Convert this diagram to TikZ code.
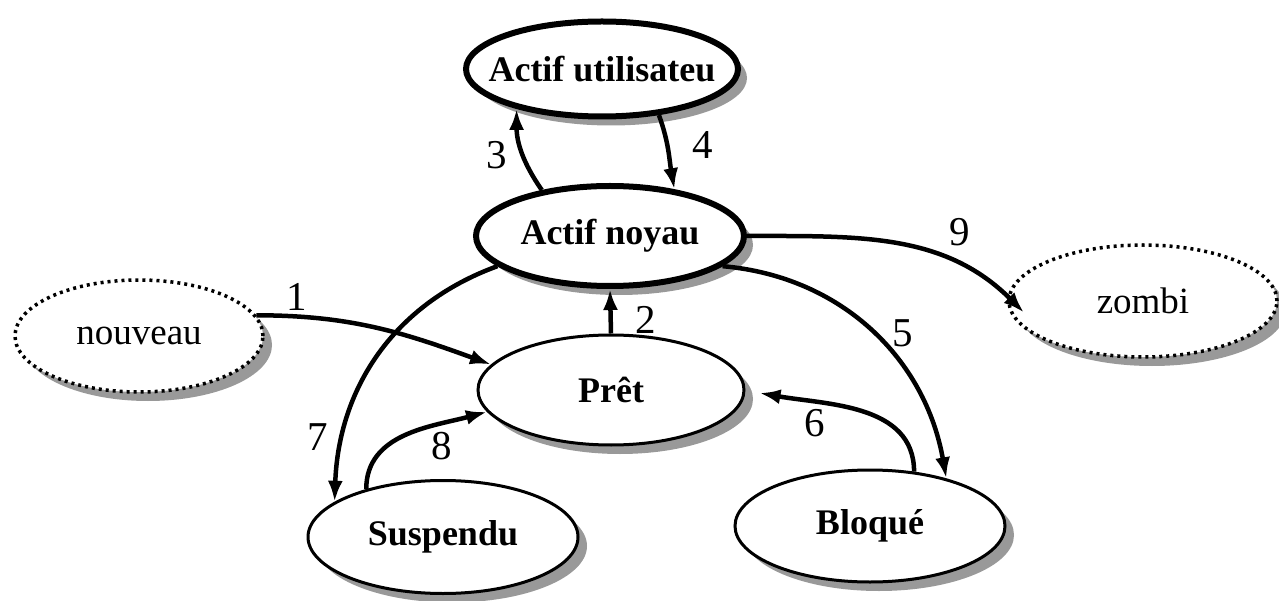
\documentclass[tikz,border=0pt]{standalone}
\usepackage{fontspec}
\setmainfont{Liberation Serif}
\usetikzlibrary{shapes.geometric,shadows,arrows.meta}
\newcommand\mkzw[1]{\makebox[0pt]{#1}}
\begin{document}
\begin{tikzpicture}[x=1pt,y=-1pt,
 st/.style={ellipse,draw,fill=white,line width=3pt,inner sep=0pt,
   font=\fontsize{36}{40}\selectfont\bfseries,
   drop shadow={shadow xshift=9pt,shadow yshift=-9pt,fill=black!40,opacity=1}},
 thickst/.style={st,line width=6pt},
 dotst/.style={st,line width=3.5pt,dash pattern=on 3pt off 4pt,font=\fontsize{37}{40}\selectfont},
 tr/.style={line width=4.5pt,-{Latex[length=21pt,width=15pt]}},
 lab/.style={font=\fontsize{41}{44}\selectfont,inner sep=0pt}]
\useasboundingbox (0,0) rectangle (1279,601);

\node[thickst,minimum width=272,minimum height=95] (util) at (602,69) {\mkzw{Actif utilisateu}};
\node[thickst,minimum width=268,minimum height=100] (noyau) at (610,236) {\mkzw{Actif noyau}};
\node[dotst,minimum width=248,minimum height=112] (nouveau) at (139,336) {\mkzw{nouveau}};
\node[dotst,minimum width=268,minimum height=112] (zombi) at (1143,301) {\mkzw{zombi}};
\node[st,minimum width=266,minimum height=110] (pret) at (611,390) {\mkzw{Prêt}};
\node[st,minimum width=270,minimum height=113] (susp) at (443,537) {\mkzw{Suspendu}};
\node[st,minimum width=270,minimum height=112] (bloq) at (870,526) {\mkzw{Bloqué}};

\draw[tr] (nouveau.10) to[out=0,in=160] (pret.168);
\draw[tr] (pret.north) -- (noyau.south);
\draw[tr] (noyau.146) to[out=125,in=270] (util.205);
\draw[tr] (util.-39) to[out=-70,in=100] (noyau.36);
\draw[tr] (noyau.0) to[out=0,in=135] ([xshift=14pt]zombi.185);
\draw[tr] (noyau.-15) to[out=-5,in=100] (bloq.32);
\draw[tr] (bloq.51) to[out=90,in=-10] ([xshift=14pt,yshift=-3pt]pret.east);
\draw[tr] (noyau.195) to[out=200,in=88] (susp.162);
\draw[tr] (susp.148) to[out=90,in=195] (pret.190);

\node[lab] (l1) at (297,297) {1};
\node[lab] (l2) at (646,320) {2};
\node[lab] (l3) at (497,155) {3};
\node[lab] (l4) at (703,145) {4};
\node[lab] (l5) at (903,333) {5};
\node[lab] (l6) at (815,423) {6};
\node[lab] (l7) at (318,437) {7};
\node[lab] (l8) at (442,446) {8};
\node[lab] (l9) at (960,232) {9};
\end{tikzpicture}
\end{document}
